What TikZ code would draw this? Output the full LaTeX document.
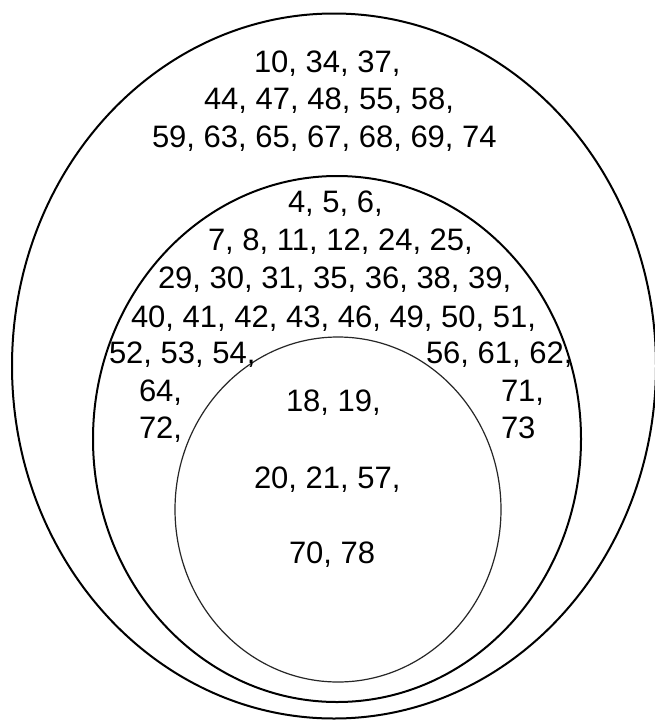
\documentclass[tikz,border=0pt]{standalone}
\usepackage{fontspec}
\setmainfont{Liberation Sans}
\begin{document}
\begin{tikzpicture}[x=1pt,y=-1pt,
  lbl/.style={inner sep=0pt,outer sep=0pt,anchor=base west,font=\fontsize{31}{37}\selectfont},
  thick line/.style={line width=2pt,black},
  thin line/.style={line width=1.2pt,black!85}]
\useasboundingbox (0,0) rectangle (655,720);
\fill[white] (0,0) rectangle (655,720);
\begin{scope}
\clip (0,0) rectangle (655,720);
\draw[thick line] (334,366) ellipse [x radius=322, y radius=352.5];
\draw[thick line] (337,439) ellipse [x radius=244, y radius=263];
\draw[thin line] (338,509.5) ellipse [x radius=163, y radius=172.5];
\end{scope}
% outer set
\node[lbl] (o1) at (254,72) {10, 34, 37,};
\node[lbl] (o2) at (204,109) {44, 47, 48, 55, 58,};
\node[lbl] (o3) at (152,147) {59, 63, 65, 67, 68, 69, 74};
% middle set
\node[lbl] (m1) at (288,212) {4, 5, 6,};
\node[lbl] (m2) at (208,250) {7, 8, 11, 12, 24, 25,};
\node[lbl] (m3) at (158,288) {29, 30, 31, 35, 36, 38, 39,};
\node[lbl] (m4) at (131,327) {40, 41, 42, 43, 46, 49, 50, 51,};
\node[lbl] (m5l) at (109,363) {52, 53, 54,};
\node[lbl] (m5r) at (426,363) {56, 61, 62,};
\node[lbl] (m6l) at (139,401) {64,};
\node[lbl] (m7l) at (139,438) {72,};
\node[lbl] (m6r) at (501,401) {71,};
\node[lbl] (m7r) at (501,438) {73};
% inner set
\node[lbl] (i1) at (286,411) {18, 19,};
\node[lbl] (i2) at (254,488) {20, 21, 57,};
\node[lbl] (i3) at (289,563) {70, 78};
\end{tikzpicture}
\end{document}
